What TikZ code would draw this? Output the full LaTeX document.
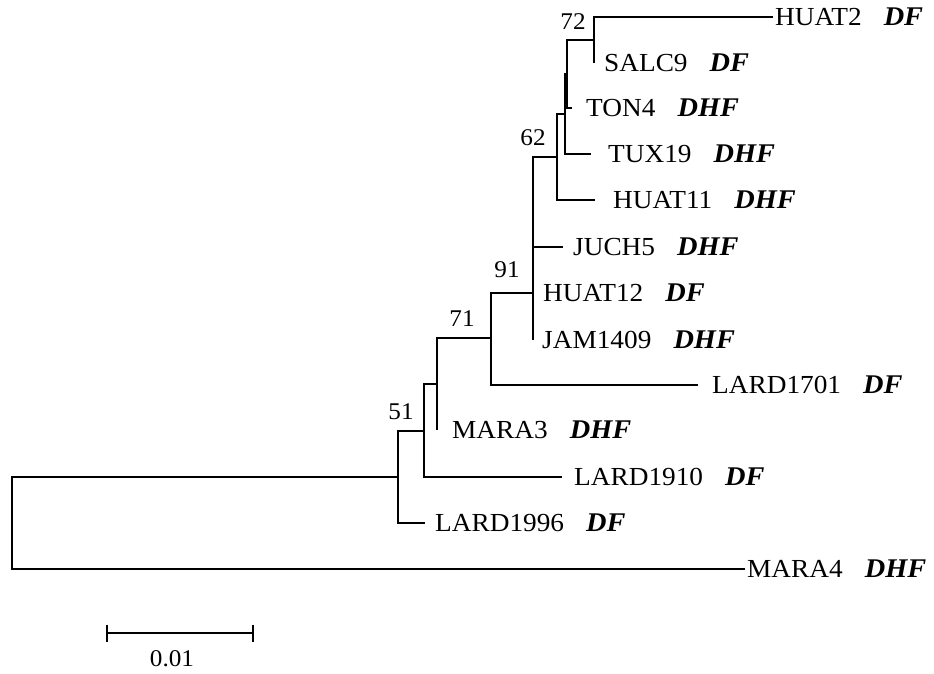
\documentclass[tikz,border=0pt]{standalone}
\usepackage{fontspec}
\setmainfont{Liberation Serif}[FakeStretch=1.05]
\begin{document}
\begin{tikzpicture}[x=1pt,y=-1pt,
  br/.style={line width=2.9pt,line join=miter},
  leaf/.style={anchor=base west,inner sep=0pt,yshift=-8.5pt,font=\fontsize{26}{30}\selectfont},
  boot/.style={anchor=center,inner sep=0pt,font=\fontsize{24}{28}\selectfont}]
\path[use as bounding box,fill=white] (0,0) rectangle (934,673);
\newcommand{\dx}[1]{\hspace{0.85em}{\fontsize{27}{30}\selectfont\textbf{\textit{#1}}}}
% leaf tips
\coordinate (tHUAT2) at (773,17);
\coordinate (tSALC9) at (594,63);
\coordinate (tTON4) at (572,108);
\coordinate (tTUX19) at (591,154);
\coordinate (tHUAT11) at (595,200);
\coordinate (tJUCH5) at (563,247);
\coordinate (tHUAT12) at (533,293);
\coordinate (tJAM1409) at (533,340);
\coordinate (tLARD1701) at (698,385);
\coordinate (tMARA3) at (437,430);
\coordinate (tLARD1910) at (562,477);
\coordinate (tLARD1996) at (425,523);
\coordinate (tMARA4) at (745,569);
% internal nodes
\coordinate (n72) at (594,40);
\coordinate (nA) at (567,74);
\coordinate (nB) at (565,114);
\coordinate (n62) at (557,157);
\coordinate (nC) at (533,247);
\coordinate (n91) at (533,293);
\coordinate (n71) at (491,338);
\coordinate (nD) at (437,384);
\coordinate (nF) at (424,431);
\coordinate (n51) at (398,477);
\coordinate (nR) at (12,523);
% branches
\draw[br] (tHUAT2) -| (n72) |- (tSALC9);
\draw[br] (n72) -| (nA) |- (tTON4);
\draw[br] (nA) -| (nB) |- (tTUX19);
\draw[br] (nB) -| (n62) |- (tHUAT11);
\draw[br] (n62) -| (nC) |- (tJAM1409);
\draw[br] (nC) -- (tJUCH5);
\draw[br] (tHUAT12) -| (n71) |- (tLARD1701);
\draw[br] (n71) -| (nD) |- (tMARA3);
\draw[br] (nD) -| (nF) |- (tLARD1910);
\draw[br] (nF) -| (n51) |- (tLARD1996);
\draw[br] (n51) -| (nR) |- (tMARA4);
% leaf labels
\node[leaf] (lHUAT2) at (775,17) {HUAT2\dx{DF}};
\node[leaf] (lSALC9) at (604,63) {SALC9\dx{DF}};
\node[leaf] (lTON4) at (586,108) {TON4\dx{DHF}};
\node[leaf] (lTUX19) at (608,154) {TUX19\dx{DHF}};
\node[leaf] (lHUAT11) at (613,200) {HUAT11\dx{DHF}};
\node[leaf] (lJUCH5) at (573,247) {JUCH5\dx{DHF}};
\node[leaf] (lHUAT12) at (543,293) {HUAT12\dx{DF}};
\node[leaf] (lJAM1409) at (542,340) {JAM1409\dx{DHF}};
\node[leaf] (lLARD1701) at (712,385) {LARD1701\dx{DF}};
\node[leaf] (lMARA3) at (452,430) {MARA3\dx{DHF}};
\node[leaf] (lLARD1910) at (574,477) {LARD1910\dx{DF}};
\node[leaf] (lLARD1996) at (435,523) {LARD1996\dx{DF}};
\node[leaf] (lMARA4) at (747,569) {MARA4\dx{DHF}};
% bootstrap values
\node[boot] (b72) at (573,22) {72};
\node[boot] (b62) at (533,138) {62};
\node[boot] (b91) at (507,270) {91};
\node[boot] (b71) at (462,319) {71};
\node[boot] (b51) at (401,412) {51};
% scale bar
\coordinate (s1) at (107,633);
\coordinate (s2) at (253,633);
\draw[br] (s1) -- (s2);
\draw[br] ([yshift=8.5pt]s1) -- ([yshift=-8.5pt]s1);
\draw[br] ([yshift=8.5pt]s2) -- ([yshift=-8.5pt]s2);
\node[boot] (scale) at (172,659) {0.01};
\end{tikzpicture}
\end{document}
